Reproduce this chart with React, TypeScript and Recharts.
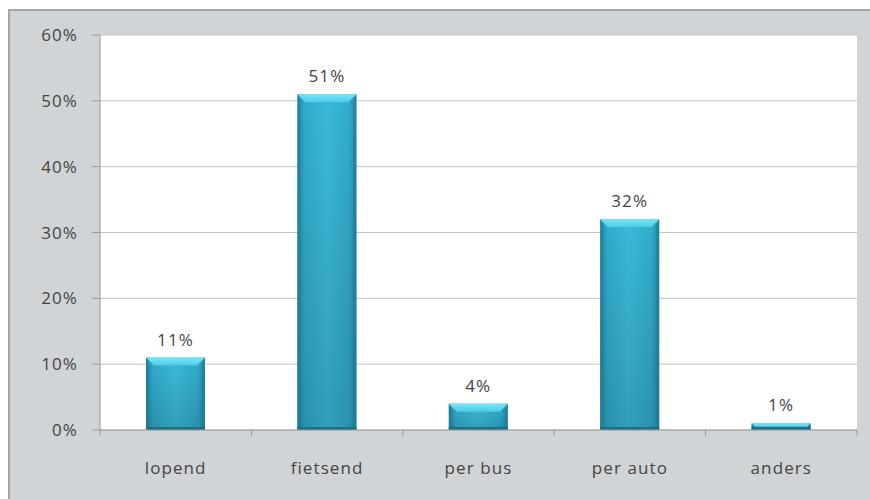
import { BarChart, Bar, XAxis, YAxis, CartesianGrid, LabelList } from "recharts";

const categories = ["lopend", "fietsend", "per bus", "per auto", "anders"];
const shares = [11, 51, 4, 32, 1];
const yTicks = [0, 10, 20, 30, 40, 50, 60];

const data = categories.map((name, i) => ({ name, value: shares[i] }));

const FONT = "'Open Sans', sans-serif";
const textStyle = { fill: "#444", fontSize: 17, fontFamily: FONT, letterSpacing: 1.1 };
const AXIS = "#9a9a9a";
const X_LABEL_GAP = 32;

function BevelBar(props: any) {
  const { x, y, width, height } = props;
  if (height <= 0) return null;
  const b = Math.min(8, height / 2);
  return (
    <g>
      <rect x={x} y={y} width={width} height={height} fill="url(#barBody)" />
      <rect x={x} y={y} width={width} height={height} fill="url(#barShade)" />
      <polygon
        points={`${x},${y} ${x + width},${y} ${x + width - b},${y + b} ${x + b},${y + b}`}
        fill="url(#barTop)"
      />
      <polygon
        points={`${x},${y} ${x + 3},${y + b} ${x + 3},${y + height - 3} ${x},${y + height}`}
        fill="#1e7f9b"
        opacity={0.6}
      />
      <polygon
        points={`${x + width},${y} ${x + width - 3},${y + b} ${x + width - 3},${y + height - 3} ${x + width},${y + height}`}
        fill="#1e7f9b"
        opacity={0.6}
      />
      <rect x={x} y={y + height - 3} width={width} height={3} fill="#1b6f88" />
    </g>
  );
}

// category label plus tick marks on the category boundaries (Excel style)
function CategoryTick(props: any) {
  const { x, y, payload, index, visibleTicksCount } = props;
  const half = payload?.offset ?? 0;
  const axisY = y - X_LABEL_GAP;
  const last = index === (visibleTicksCount ?? categories.length) - 1;
  return (
    <g>
      <line x1={x - half} x2={x - half} y1={axisY} y2={axisY + 6} stroke={AXIS} />
      {last && <line x1={x + half} x2={x + half} y1={axisY} y2={axisY + 6} stroke={AXIS} />}
      <text x={x} y={y} dy="0.71em" textAnchor="middle" style={textStyle}>
        {payload.value}
      </text>
    </g>
  );
}

export default function App() {
  return (
    <div style={{ position: "absolute", left: 0, top: 0, width: 870, height: 499, background: "#fff", overflow: "hidden" }}>
      <div
        style={{
          position: "absolute",
          left: 8,
          top: 9,
          width: 870,
          height: 499,
          background: "#d1d4d6",
          borderLeft: "2px solid #a3a6a8",
          borderTop: "2px solid #a3a6a8",
        }}
      />
      <div style={{ position: "absolute", left: 0, top: 0 }}>
        <BarChart
          width={870}
          height={499}
          data={data}
          margin={{ top: 35, right: 13, bottom: 0, left: 0 }}
          barCategoryGap={46}
        >
          <defs>
            <linearGradient id="barBody" x1="0" y1="0" x2="1" y2="0">
              <stop offset="0%" stopColor="#2386a3" />
              <stop offset="12%" stopColor="#31abcb" />
              <stop offset="50%" stopColor="#3bbad9" />
              <stop offset="88%" stopColor="#31abcb" />
              <stop offset="100%" stopColor="#2386a3" />
            </linearGradient>
            <linearGradient id="barShade" x1="0" y1="0" x2="0" y2="1">
              <stop offset="0%" stopColor="#000" stopOpacity={0} />
              <stop offset="100%" stopColor="#000" stopOpacity={0.15} />
            </linearGradient>
            <linearGradient id="barTop" x1="0" y1="0" x2="0" y2="1">
              <stop offset="0%" stopColor="#7ae6f7" />
              <stop offset="100%" stopColor="#4ccbe6" />
            </linearGradient>
          </defs>
          <CartesianGrid vertical={false} stroke="#c3c3c3" fill="#ffffff" />
          <XAxis
            dataKey="name"
            axisLine={{ stroke: AXIS }}
            tickLine={false}
            tickSize={0}
            tickMargin={X_LABEL_GAP}
            height={69}
            interval={0}
            tick={<CategoryTick />}
          />
          <YAxis
            domain={[0, 60]}
            ticks={yTicks}
            tickFormatter={(v: number) => `${v}%`}
            width={100}
            axisLine={{ stroke: AXIS }}
            tickLine={{ stroke: AXIS }}
            tickSize={8}
            tickMargin={14}
            tick={textStyle}
            interval={0}
          />
          <Bar dataKey="value" shape={<BevelBar />} isAnimationActive={false}>
            <LabelList
              dataKey="value"
              position="top"
              offset={12}
              formatter={(v: any) => `${v}%`}
              style={textStyle}
            />
          </Bar>
        </BarChart>
      </div>
    </div>
  );
}
